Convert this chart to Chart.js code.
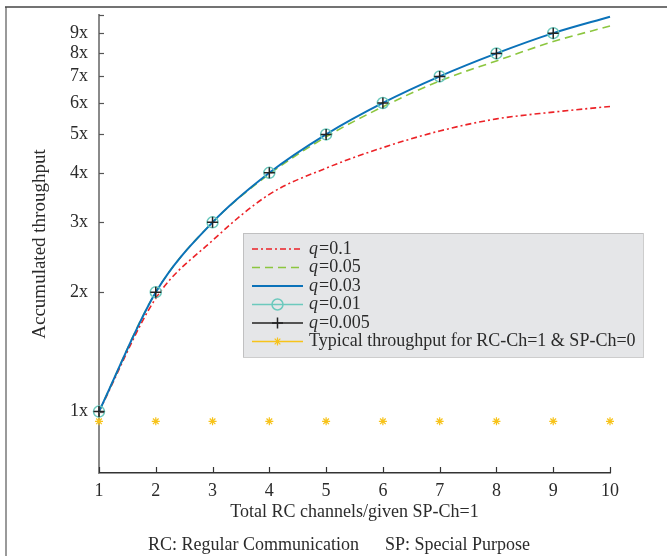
<!DOCTYPE html>
<html>
<head>
<meta charset="utf-8">
<script src="https://cdn.jsdelivr.net/npm/chart.js@4.4.0/dist/chart.umd.min.js"></script>
<style>
  html, body { margin: 0; padding: 0; background: #fff; }
  #wrap { width: 667px; height: 556px; }
</style>
</head>
<body>
<div id="wrap"><canvas id="myChart" width="667" height="556"></canvas></div>
<script>
// values
const channels = [1, 2, 3, 4, 5, 6, 7, 8, 9, 10];
const q0100 = [1, 1.93, 2.7, 3.53, 4.11, 4.63, 5.1, 5.47, 5.69, 5.88];
const q0050 = [1, 2.0, 3.0, 3.97, 4.93, 5.87, 6.82, 7.66, 8.57, 9.38];
const q0030 = [1, 2, 3, 4, 5, 6, 7, 8, 9, 9.9];
const q0010 = [1, 2, 3, 4, 5, 6, 7, 8, 9];
const q0005 = [1, 2, 3, 4, 5, 6, 7, 8, 9];
const typical = [0.945, 0.945, 0.945, 0.945, 0.945, 0.945, 0.945, 0.945, 0.945, 0.945];

const qLabels = ['q=0.1', 'q=0.05', 'q=0.03', 'q=0.01', 'q=0.005'];
const typicalLabel = 'Typical throughput for RC-Ch=1 & SP-Ch=0';
const yTicks = [1, 2, 3, 4, 5, 6, 7, 8, 9, 10];
const xTitle = 'Total RC channels/given SP-Ch=1';
const yTitle = 'Accumulated throughput';
const captionLeft = 'RC: Regular Communication';
const captionRight = 'SP: Special Purpose';

const FONT = 'Liberation Serif';
const TEXT = '#2b2b2b';

function points(values) {
  return values.map((v, i) => ({ x: channels[i], y: v }));
}

// datasets, first one drawn on top
const datasets = [
  { label: qLabels[4], data: points(q0005), borderColor: '#222', borderWidth: 1.5, showLine: false,
    pointStyle: 'cross', pointRadius: 5.5, pointBorderColor: '#222', pointBorderWidth: 1.5 },
  { label: qLabels[3], data: points(q0010), borderColor: '#6cc9bd', borderWidth: 1.5, showLine: false,
    pointStyle: 'circle', pointRadius: 5.5, pointBorderColor: '#6cc9bd', pointBackgroundColor: 'rgba(0,0,0,0)', pointBorderWidth: 1.5 },
  { label: typicalLabel, data: points(typical), borderColor: '#f7c31a', borderWidth: 1.5, showLine: false,
    pointStyle: 'star', pointRadius: 4, pointBorderColor: '#f7c31a', pointBorderWidth: 1.2 },
  { label: qLabels[2], data: points(q0030), borderColor: '#0b72b9', borderWidth: 2, pointRadius: 0 },
  { label: qLabels[1], data: points(q0050), borderColor: '#8cc63f', borderWidth: 1.6, borderDash: [8, 5], pointRadius: 0 },
  { label: qLabels[0], data: points(q0100), borderColor: '#ec2227', borderWidth: 1.6, borderDash: [6, 3, 2, 3], pointRadius: 0 }
];

// legend order as in the figure
const legendOrder = [5, 4, 3, 1, 0, 2];

datasets.forEach(d => {
  d.fill = false;
  d.clip = false;
  d.cubicInterpolationMode = 'monotone';
});

function drawMarker(c, ds, x, y) {
  if (!ds.pointRadius) return;
  c.save();
  c.strokeStyle = ds.pointBorderColor;
  c.fillStyle = 'rgba(0,0,0,0)';
  c.lineWidth = ds.pointBorderWidth;
  c.setLineDash([]);
  Chart.helpers.drawPoint(c, { pointStyle: ds.pointStyle, radius: ds.pointRadius, rotation: 0, borderWidth: ds.pointBorderWidth }, x, y);
  c.restore();
}

const decor = {
  id: 'decor',
  beforeDraw(chart) {
    const c = chart.ctx;
    c.save();
    c.fillStyle = '#fff';
    c.fillRect(0, 0, chart.width, chart.height);
    c.strokeStyle = '#9a9a9a';
    c.lineWidth = 2;
    c.beginPath(); c.moveTo(6, 7); c.lineTo(6, chart.height); c.stroke();
    c.strokeStyle = '#444';
    c.lineWidth = 1.5;
    c.beginPath(); c.moveTo(5, 7); c.lineTo(chart.width, 7); c.stroke();
    c.restore();
  },
  afterDraw(chart) {
    const c = chart.ctx;
    const xs = chart.scales.x, ys = chart.scales.y;
    const area = chart.chartArea;
    c.save();

    // inward ticks
    c.lineWidth = 1.2;
    c.strokeStyle = '#555';
    yTicks.forEach(v => {
      const py = Math.round(ys.getPixelForValue(v)) + 0.5;
      c.beginPath(); c.moveTo(area.left, py); c.lineTo(area.left + 5, py); c.stroke();
    });
    c.strokeStyle = '#333';
    channels.forEach(v => {
      const px = Math.round(xs.getPixelForValue(v)) + 0.5;
      c.beginPath(); c.moveTo(px, area.bottom); c.lineTo(px, area.bottom - 6); c.stroke();
    });

    // legend box
    const bx = 243, by = 233, bw = 400, bh = 124;
    c.fillStyle = '#e5e6e8';
    c.fillRect(bx, by, bw, bh);
    c.strokeStyle = '#9a9a9a';
    c.lineWidth = 1;
    c.setLineDash([1, 1]);
    c.strokeRect(bx + 0.5, by + 0.5, bw, bh);
    c.setLineDash([]);

    legendOrder.forEach((idx, row) => {
      const ds = datasets[idx];
      const y = 249 + row * 18.5;
      c.strokeStyle = ds.borderColor;
      c.lineWidth = ds.borderWidth || 1.5;
      c.setLineDash(ds.borderDash || []);
      c.beginPath(); c.moveTo(252, y); c.lineTo(303, y); c.stroke();
      c.setLineDash([]);
      drawMarker(c, ds, 277.5, y);

      c.fillStyle = TEXT;
      c.textBaseline = 'middle';
      c.textAlign = 'left';
      let tx = 309;
      let label = ds.label;
      if (label.startsWith('q=')) {
        c.font = 'italic 18px ' + FONT;
        c.fillText('q', tx, y);
        tx += c.measureText('q').width + 1;
        label = label.slice(1);
      }
      c.font = '18px ' + FONT;
      c.fillText(label, tx, y);
    });

    // caption under the plot
    c.fillStyle = TEXT;
    c.font = '18px ' + FONT;
    c.textBaseline = 'middle';
    c.textAlign = 'left';
    c.fillText(captionLeft, 148, 545);
    c.fillText(captionRight, 385, 545);
    c.restore();
  }
};

Chart.defaults.font.family = FONT;
Chart.defaults.font.size = 18;
Chart.defaults.color = TEXT;

const ctx = document.getElementById('myChart').getContext('2d');
new Chart(ctx, {
  type: 'line',
  data: { datasets: datasets },
  options: {
    responsive: false,
    animation: false,
    devicePixelRatio: 1,
    layout: { padding: { left: 0, right: 57, top: 15, bottom: 0 } },
    plugins: { legend: { display: false }, tooltip: { enabled: false } },
    scales: {
      x: {
        type: 'linear', min: 1, max: 10,
        ticks: { stepSize: 1, padding: 7, color: TEXT },
        grid: { display: false, drawTicks: false },
        border: { color: '#333', width: 1.5 },
        title: { display: true, text: xTitle, color: TEXT, padding: { top: 0, bottom: 33 } },
        afterFit(s) { s.height = 83; s.paddingLeft = 0; s.paddingRight = 0; }
      },
      y: {
        type: 'logarithmic', min: 0.7, max: 10,
        afterBuildTicks(s) { s.ticks = yTicks.map(v => ({ value: v })); },
        ticks: { autoSkip: false, padding: 11, color: TEXT, callback: v => (v < 10 ? v + 'x' : '') },
        grid: { display: false, drawTicks: false },
        border: { color: '#8a8a8a', width: 2 },
        title: { display: true, text: yTitle, color: TEXT, font: { size: 19 }, padding: { top: 29, bottom: 0 } },
        afterFit(s) { s.width = 99; s.paddingTop = 0; s.paddingBottom = 0; }
      }
    }
  },
  plugins: [decor]
});
</script>
</body>
</html>
